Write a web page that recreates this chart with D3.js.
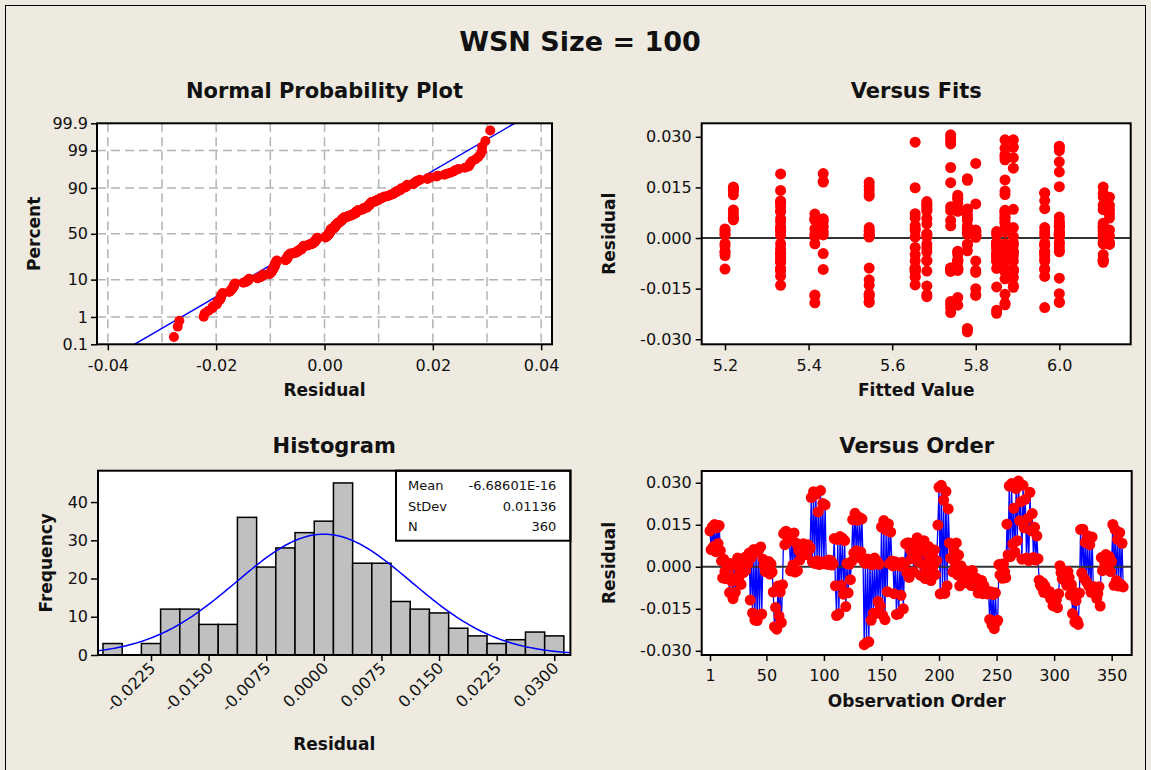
<!DOCTYPE html>
<html>
<head>
<meta charset="utf-8">
<script src="https://cdn.jsdelivr.net/npm/d3@7"></script>
<style>
  body { margin: 0; background: #fff; }
  svg { display: block; }
  text { font-family: "DejaVu Sans", sans-serif; fill: #111; }
</style>
</head>
<body>
<svg id="chart" width="1151" height="770"></svg>
<script>
/* WSN Size = 100 - residual four-in-one (Minitab style) */

// residuals in observation order, 36 runs of 10
const residuals = [
   0.0128, 0.0061, 0.0142, 0.0072, 0.0151, 0.0054, 0.0139, 0.0083, 0.0147, 0.0058,
   0.0021,-0.0040, 0.0027,-0.0016,-0.0043, 0.0009,-0.0024,-0.0092, 0.0012,-0.0052,
  -0.0114, 0.0007,-0.0091,-0.0040, 0.0031,-0.0046,-0.0015,-0.0063, 0.0018,-0.0021,
   0.0033,-0.0013, 0.0036, 0.0012, 0.0049,-0.0119, 0.0034,-0.0165, 0.0062,-0.0190,
   0.0053,-0.0192, 0.0058,-0.0171, 0.0071,-0.0169, 0.0027, 0.0004,-0.0017, 0.0011,
  -0.0016, 0.0019,-0.0026, 0.0010,-0.0019,-0.0090,-0.0214,-0.0145,-0.0223,-0.0069,
  -0.0176,-0.0090,-0.0199,-0.0064, 0.0118, 0.0079, 0.0127, 0.0086, 0.0116, 0.0103,
  -0.0015, 0.0097, 0.0006, 0.0121,-0.0019, 0.0084,-0.0014, 0.0059, 0.0024, 0.0071,
   0.0058, 0.0082, 0.0049, 0.0074, 0.0043, 0.0079, 0.0061, 0.0068, 0.0247, 0.0018,
   0.0268, 0.0012, 0.0259, 0.0021, 0.0196, 0.0008, 0.0272, 0.0017, 0.0226, 0.0011,
   0.0221, 0.0019, 0.0009, 0.0024, 0.0009, 0.0022, 0.0006, 0.0011, 0.0101,-0.0068,
  -0.0174, 0.0097,-0.0168, 0.0108,-0.0066, 0.0102,-0.0098, 0.0093,-0.0142, 0.0012,
  -0.0093, 0.0009,-0.0046, 0.0019, 0.0168, 0.0049, 0.0191, 0.0057, 0.0166, 0.0034,
   0.0176, 0.0053, 0.0171, 0.0023,-0.0278, 0.0012,-0.0271, 0.0028,-0.0268, 0.0017,
  -0.0191, 0.0007,-0.0166, 0.0031,-0.0167, 0.0021,-0.0124, 0.0009,-0.0140, 0.0142,
  -0.0173, 0.0165,-0.0189, 0.0131,-0.0089, 0.0153, 0.0011, 0.0124, 0.0021, 0.0003,
  -0.0096, 0.0018,-0.0170, 0.0009,-0.0168, 0.0002,-0.0102, 0.0016,-0.0150, 0.0007,
   0.0082,-0.0021, 0.0086,-0.0038, 0.0061, 0.0029, 0.0084,-0.0018, 0.0069, 0.0036,
   0.0104, 0.0019, 0.0078,-0.0031, 0.0057, 0.0008, 0.0093,-0.0042, 0.0048,-0.0017,
   0.0072, 0.0028,-0.0049, 0.0037, 0.0003, 0.0060,-0.0028, 0.0022, 0.0149, 0.0284,
  -0.0097, 0.0291,-0.0093, 0.0238,-0.0095, 0.0269,-0.0068, 0.0207, 0.0085, 0.0031,
   0.0079,-0.0018, 0.0058, 0.0012, 0.0085,-0.0029, 0.0042,-0.0068, 0.0004,-0.0041,
  -0.0016,-0.0048,-0.0014,-0.0057,-0.0031,-0.0022,-0.0043,-0.0067,-0.0013,-0.0052,
  -0.0039,-0.0071,-0.0042,-0.0094,-0.0069,-0.0088,-0.0049,-0.0096,-0.0067,-0.0092,
  -0.0092,-0.0097,-0.0089,-0.0188,-0.0089,-0.0207,-0.0099,-0.0221,-0.0093,-0.0197,
  -0.0191, 0.0008,-0.0029, 0.0002,-0.0041, 0.0011,-0.0018,-0.0039, 0.0152, 0.0043,
   0.0288, 0.0036, 0.0297, 0.0081, 0.0209, 0.0052, 0.0279, 0.0093, 0.0306, 0.0164,
   0.0232, 0.0027, 0.0291, 0.0139, 0.0241, 0.0031, 0.0172, 0.0022, 0.0266, 0.0129,
   0.0190, 0.0033, 0.0141, 0.0024, 0.0110, 0.0029,-0.0048,-0.0065,-0.0072,-0.0057,
  -0.0091,-0.0068,-0.0091,-0.0092,-0.0098,-0.0088,-0.0114,-0.0101,-0.0139,-0.0116,
  -0.0141,-0.0117,-0.0146,-0.0096, 0.0004,-0.0021,-0.0043,-0.0014,-0.0039,-0.0052,
  -0.0066,-0.0017,-0.0038,-0.0101,-0.0063,-0.0167,-0.0089,-0.0198,-0.0121,-0.0193,
  -0.0206,-0.0094, 0.0133,-0.0022, 0.0134,-0.0041, 0.0087,-0.0053, 0.0111,-0.0069,
   0.0079,-0.0091, 0.0106,-0.0070,-0.0091,-0.0098,-0.0113,-0.0095,-0.0071,-0.0140,
   0.0033,-0.0014, 0.0032, 0.0011, 0.0044, 0.0002, 0.0024, 0.0036,-0.0017, 0.0019,
   0.0151,-0.0066, 0.0133,-0.0049, 0.0098,-0.0069, 0.0122,-0.0063, 0.0084,-0.0072
];

// fitted value of each run of 10 observations
const runFits = [
  5.220, 5.200, 5.965, 6.000, 5.415, 5.850, 5.757, 6.120, 5.870, 6.000,
  5.800, 5.683, 5.435, 5.780, 5.545, 5.545, 5.800, 5.780, 5.333, 5.655,
  5.890, 5.683, 5.850, 5.757, 5.740, 6.000, 5.740, 5.870, 5.333, 5.655,
  5.890, 5.870, 5.965, 5.333, 6.105, 6.105
];
const runLength = 10;

// histogram bins (centre, count)
const binCenters = [-0.0275, -0.0250, -0.0225, -0.0200, -0.0175, -0.0150, -0.0125, -0.0100,
                    -0.0075, -0.0050, -0.0025, 0.0000, 0.0025, 0.0050, 0.0075, 0.0100,
                     0.0125, 0.0150, 0.0175, 0.0200, 0.0225, 0.0250, 0.0275, 0.0300];
const binCounts  = [3, 0, 3, 12, 12, 8, 8, 36, 23, 28, 32, 35, 45, 24, 24, 14, 12, 11, 7, 5, 3, 4, 6, 5];
const binWidth = 0.0025;

// summary shown in the legend box
const statLabels = ["Mean", "StDev", "N"];
const statValues = ["-6.68601E-16", "0.01136", "360"];
const statMean = -6.68601e-16;
const statSd = 0.01136;
const statN = 360;

// tick labels
const probTicks   = [0.1, 1, 10, 50, 90, 99, 99.9];
const probGrid    = [1, 10, 50, 90, 99];
const normXTicks  = [-0.04, -0.02, 0.00, 0.02, 0.04];
const normXGrid   = [-0.04, -0.03, -0.02, -0.01, 0.00, 0.01, 0.02, 0.03, 0.04];
const fitTicks    = [5.2, 5.4, 5.6, 5.8, 6.0];
const resTicks    = [-0.030, -0.015, 0.000, 0.015, 0.030];
const histXTicks  = [-0.0225, -0.0150, -0.0075, 0.0000, 0.0075, 0.0150, 0.0225, 0.0300];
const histYTicks  = [0, 10, 20, 30, 40];
const orderTicks  = [1, 50, 100, 150, 200, 250, 300, 350];

const RED = "#ff0000", BLUE = "#0000ff";

/* ---------- helpers ---------- */

// inverse normal cdf (Acklam)
function probit(p) {
  const a = [-3.969683028665376e+01, 2.209460984245205e+02, -2.759285104469687e+02, 1.383577518672690e+02, -3.066479806614716e+01, 2.506628277459239e+00];
  const b = [-5.447609879822406e+01, 1.615858368580409e+02, -1.556989798598866e+02, 6.680131188771972e+01, -1.328068155288572e+01];
  const c = [-7.784894002430293e-03, -3.223964580411365e-01, -2.400758277161838e+00, -2.549732539343734e+00, 4.374664141464968e+00, 2.938163982698783e+00];
  const d = [7.784695709041462e-03, 3.224671290700398e-01, 2.445134137142996e+00, 3.754408661907416e+00];
  const pl = 0.02425;
  if (p < pl) {
    const q = Math.sqrt(-2 * Math.log(p));
    return (((((c[0]*q+c[1])*q+c[2])*q+c[3])*q+c[4])*q+c[5]) / ((((d[0]*q+d[1])*q+d[2])*q+d[3])*q+1);
  }
  if (p > 1 - pl) {
    const q = Math.sqrt(-2 * Math.log(1 - p));
    return -(((((c[0]*q+c[1])*q+c[2])*q+c[3])*q+c[4])*q+c[5]) / ((((d[0]*q+d[1])*q+d[2])*q+d[3])*q+1);
  }
  const q = p - 0.5, r = q * q;
  return (((((a[0]*r+a[1])*r+a[2])*r+a[3])*r+a[4])*r+a[5])*q / (((((b[0]*r+b[1])*r+b[2])*r+b[3])*r+b[4])*r+1);
}
function normPdf(x, m, s) {
  const z = (x - m) / s;
  return Math.exp(-0.5 * z * z) / (s * Math.sqrt(2 * Math.PI));
}
const hy = s => s.replace("\u2212", "-");

const svg = d3.select("#chart");

svg.append("rect").attr("width", 1151).attr("height", 770).attr("fill", "#eeeae0");
svg.append("rect").attr("x", 5.5).attr("y", 5.5).attr("width", 1140).attr("height", 800)
  .attr("fill", "none").attr("stroke", "#000").attr("stroke-width", 1);

svg.append("text").attr("x", 580).attr("y", 51).attr("text-anchor", "middle")
  .attr("font-size", 27).attr("font-weight", "bold").text("WSN Size = 100");

// common panel pieces
function panel(x0, x1, y0, y1, title, titleY, clipId) {
  const g = svg.append("g");
  g.append("rect").attr("x", x0).attr("y", y0).attr("width", x1 - x0).attr("height", y1 - y0).attr("fill", "#fff");
  svg.append("clipPath").attr("id", clipId).append("rect")
    .attr("x", x0).attr("y", y0).attr("width", x1 - x0).attr("height", y1 - y0);
  svg.append("text").attr("x", (x0 + x1) / 2).attr("y", titleY).attr("text-anchor", "middle")
    .attr("font-size", 21).attr("font-weight", "bold").text(title);
  return g;
}
function frame(x0, x1, y0, y1) {
  svg.append("rect").attr("x", x0).attr("y", y0).attr("width", x1 - x0).attr("height", y1 - y0)
    .attr("fill", "none").attr("stroke", "#000").attr("stroke-width", 2);
}
function styleAxis(g) {
  g.select(".domain").remove();
  g.selectAll(".tick line").attr("stroke", "#000").attr("stroke-width", 1.5);
  g.selectAll(".tick text").attr("font-family", "DejaVu Sans, sans-serif").attr("font-size", 16).attr("fill", "#111");
}
function axisTitle(x, y, txt, rot) {
  svg.append("text").attr("transform", `translate(${x},${y})` + (rot ? " rotate(-90)" : ""))
    .attr("text-anchor", "middle").attr("font-size", 17).attr("font-weight", "bold").text(txt);
}

/* ---------- Normal probability plot ---------- */
{
  const X0 = 97, X1 = 552, Y0 = 123.3, Y1 = 344.3;
  const x = d3.scaleLinear().domain([-0.042, 0.042]).range([X0, X1]);
  const y = d3.scaleLinear().domain([probit(0.001), probit(0.999)]).range([Y1, Y0]);
  const g = panel(X0, X1, Y0, Y1, "Normal Probability Plot", 98, "clipNorm");

  g.selectAll("line.vg").data(normXGrid).enter().append("line")
    .attr("x1", d => x(d)).attr("x2", d => x(d)).attr("y1", Y0).attr("y2", Y1)
    .attr("stroke", "#b4b4b4").attr("stroke-width", 1.5).attr("stroke-dasharray", "9,5");
  g.selectAll("line.hg").data(probGrid).enter().append("line")
    .attr("x1", X0).attr("x2", X1).attr("y1", d => y(probit(d / 100))).attr("y2", d => y(probit(d / 100)))
    .attr("stroke", "#b4b4b4").attr("stroke-width", 1.5).attr("stroke-dasharray", "9,5");

  const zs = [probit(0.001), probit(0.999)];
  g.append("line").attr("clip-path", "url(#clipNorm)")
    .attr("x1", x(statMean + statSd * zs[0])).attr("y1", y(zs[0]))
    .attr("x2", x(statMean + statSd * zs[1])).attr("y2", y(zs[1]))
    .attr("stroke", BLUE).attr("stroke-width", 1.5);

  const sorted = residuals.slice().sort((a, b) => a - b);
  const n = sorted.length;
  g.selectAll("circle").data(sorted).enter().append("circle")
    .attr("cx", d => x(d)).attr("cy", (d, i) => y(probit((i + 1 - 0.3) / (n + 0.4))))
    .attr("r", 5).attr("fill", RED);

  frame(X0, X1, Y0, Y1);
  svg.append("g").attr("transform", `translate(0,${Y1})`)
    .call(d3.axisBottom(x).tickValues(normXTicks).tickSize(6).tickPadding(9).tickFormat(d => d.toFixed(2)))
    .call(styleAxis);
  svg.append("g").attr("transform", `translate(${X0},0)`)
    .call(d3.axisLeft(y).tickValues(probTicks.map(p => probit(p / 100))).tickSize(6).tickPadding(3)
      .tickFormat((d, i) => String(probTicks[i])))
    .call(styleAxis);
  axisTitle((X0 + X1) / 2, 396, "Residual");
  axisTitle(40, (Y0 + Y1) / 2, "Percent", true);
}

/* ---------- Versus fits ---------- */
{
  const X0 = 701.7, X1 = 1130.7, Y0 = 123.3, Y1 = 344.3;
  const x = d3.scaleLinear().domain([5.1442, 6.1708]).range([X0, X1]);
  const y = d3.scaleLinear().domain([-0.0315, 0.0340]).range([Y1, Y0]);
  const g = panel(X0, X1, Y0, Y1, "Versus Fits", 98, "clipFits");

  g.append("line").attr("x1", X0).attr("x2", X1).attr("y1", y(0)).attr("y2", y(0))
    .attr("stroke", "#333").attr("stroke-width", 2);
  g.selectAll("circle").data(residuals).enter().append("circle")
    .attr("cx", (d, i) => x(runFits[Math.floor(i / runLength)])).attr("cy", d => y(d))
    .attr("r", 5.5).attr("fill", RED);

  frame(X0, X1, Y0, Y1);
  svg.append("g").attr("transform", `translate(0,${Y1})`)
    .call(d3.axisBottom(x).tickValues(fitTicks).tickSize(6).tickPadding(9).tickFormat(d => d.toFixed(1)))
    .call(styleAxis);
  svg.append("g").attr("transform", `translate(${X0},0)`)
    .call(d3.axisLeft(y).tickValues(resTicks).tickSize(6).tickPadding(4).tickFormat(d => hy(d.toFixed(3))))
    .call(styleAxis);
  axisTitle((X0 + X1) / 2, 396, "Fitted Value");
  axisTitle(615, (Y0 + Y1) / 2, "Residual", true);
}

/* ---------- Histogram ---------- */
{
  const X0 = 98, X1 = 570.4, Y0 = 470.7, Y1 = 655;
  const x = d3.scaleLinear().domain([-0.0294, 0.0321]).range([X0, X1]);
  const y = d3.scaleLinear().domain([0, 48.2]).range([Y1, Y0]);
  const g = panel(X0, X1, Y0, Y1, "Histogram", 453, "clipHist");

  const bins = binCenters.map((c, i) => ({ c, n: binCounts[i] })).filter(b => b.n > 0);
  g.selectAll("rect.bar").data(bins).enter().append("rect")
    .attr("x", d => x(d.c - binWidth / 2)).attr("width", d => x(d.c + binWidth / 2) - x(d.c - binWidth / 2))
    .attr("y", d => y(d.n)).attr("height", d => Y1 - y(d.n))
    .attr("fill", "#c0c0c0").attr("stroke", "#000").attr("stroke-width", 1.5);

  const xs = d3.range(0, 201).map(i => -0.0294 + i * (0.0615 / 200));
  g.append("path").attr("clip-path", "url(#clipHist)")
    .datum(xs)
    .attr("d", d3.line().x(d => x(d)).y(d => y(statN * binWidth * normPdf(d, statMean, statSd))))
    .attr("fill", "none").attr("stroke", BLUE).attr("stroke-width", 1.5);

  // legend box
  const lx0 = 396, ly0 = Y0;
  g.append("rect").attr("x", lx0).attr("y", ly0).attr("width", X1 - lx0).attr("height", 70)
    .attr("fill", "#fff").attr("stroke", "#000").attr("stroke-width", 2);
  statLabels.forEach((s, i) => {
    g.append("text").attr("x", lx0 + 12).attr("y", ly0 + 19.5 + i * 20.5).attr("font-size", 13).text(s);
    g.append("text").attr("x", X1 - 14).attr("y", ly0 + 19.5 + i * 20.5).attr("font-size", 13)
      .attr("text-anchor", "end").text(statValues[i]);
  });

  frame(X0, X1, Y0, Y1);
  const ax = svg.append("g").attr("transform", `translate(0,${Y1})`)
    .call(d3.axisBottom(x).tickValues(histXTicks).tickSize(6).tickFormat(d => hy(d.toFixed(4))))
    .call(styleAxis);
  ax.selectAll(".tick text").attr("text-anchor", "end").attr("dy", null).attr("y", null)
    .attr("transform", "translate(5,14) rotate(-45)");
  svg.append("g").attr("transform", `translate(${X0},0)`)
    .call(d3.axisLeft(y).tickValues(histYTicks).tickSize(7).tickPadding(3))
    .call(styleAxis);
  axisTitle((X0 + X1) / 2, 750, "Residual");
  axisTitle(52, (Y0 + Y1) / 2, "Frequency", true);
}

/* ---------- Versus order ---------- */
{
  const X0 = 701.7, X1 = 1131.7, Y0 = 471, Y1 = 655;
  const x = d3.scaleLinear().domain([-6.2, 367.4]).range([X0, X1]);
  const y = d3.scaleLinear().domain([-0.0315, 0.0342]).range([Y1, Y0]);
  const g = panel(X0, X1, Y0, Y1, "Versus Order", 453, "clipOrder");

  g.append("path").datum(residuals)
    .attr("d", d3.line().x((d, i) => x(i + 1)).y(d => y(d)))
    .attr("fill", "none").attr("stroke", BLUE).attr("stroke-width", 1.3);
  g.append("line").attr("x1", X0).attr("x2", X1).attr("y1", y(0)).attr("y2", y(0))
    .attr("stroke", "#333").attr("stroke-width", 2);
  g.selectAll("circle").data(residuals).enter().append("circle")
    .attr("cx", (d, i) => x(i + 1)).attr("cy", d => y(d))
    .attr("r", 5.5).attr("fill", RED);

  frame(X0, X1, Y0, Y1);
  svg.append("g").attr("transform", `translate(0,${Y1})`)
    .call(d3.axisBottom(x).tickValues(orderTicks).tickSize(6).tickPadding(9))
    .call(styleAxis);
  svg.append("g").attr("transform", `translate(${X0},0)`)
    .call(d3.axisLeft(y).tickValues(resTicks).tickSize(6).tickPadding(4).tickFormat(d => hy(d.toFixed(3))))
    .call(styleAxis);
  axisTitle((X0 + X1) / 2, 707, "Observation Order");
  axisTitle(615, (Y0 + Y1) / 2, "Residual", true);
}
</script>
</body>
</html>
